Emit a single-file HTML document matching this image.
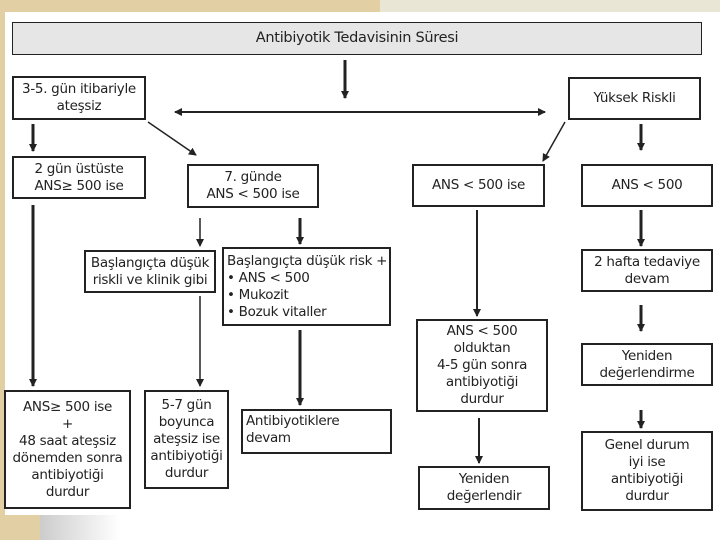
<!DOCTYPE html>
<html><head><meta charset="utf-8"><style>
body{margin:0;width:720px;height:540px;overflow:hidden;background:#e2cfa4;position:relative;font-family:"DejaVu Sans","Liberation Sans",sans-serif;}
.panel{position:absolute;left:5px;top:12px;width:715px;height:528px;background:#fff;}
.b{position:absolute;box-sizing:border-box;border:2px solid #222;background:#fff;color:#222;font-size:13.5px;line-height:17px;text-align:center;display:flex;flex-direction:column;justify-content:center;letter-spacing:-0.3px}
.l{text-align:left;align-items:flex-start;padding-left:3px}
svg{position:absolute;left:0;top:0}
</style></head><body>
<div class="panel"></div>
<div style="position:absolute;left:380px;top:0;width:340px;height:12px;background:#e9e6d6"></div>
<div style="position:absolute;left:0;top:515px;width:120px;height:25px;background:#e2cfa4"></div>
<div style="position:absolute;left:40px;top:515px;width:80px;height:25px;background:linear-gradient(90deg,#ccc,#fff)"></div>
<div class="b" style="left:12px;top:22px;width:690px;height:33px;background:#e6e6e6;border-width:1.5px;font-size:14.5px">Antibiyotik Tedavisinin Süresi</div>
<div class="b" style="left:12px;top:76px;width:134px;height:44px">3-5. gün itibariyle<br>ateşsiz</div>
<div class="b" style="left:568px;top:77px;width:133px;height:43px">Yüksek Riskli</div>
<div class="b" style="left:12px;top:156px;width:134px;height:43px">2 gün üstüste<br>ANS≥ 500 ise</div>
<div class="b" style="left:187px;top:164px;width:132px;height:44px">7. günde<br>ANS &lt; 500 ise</div>
<div class="b" style="left:412px;top:164px;width:133px;height:43px">ANS &lt; 500 ise</div>
<div class="b" style="left:581px;top:164px;width:132px;height:43px">ANS &lt; 500</div>
<div class="b" style="left:84px;top:250px;width:132px;height:43px">Başlangıçta düşük<br>riskli ve klinik gibi</div>
<div class="b l" style="left:222px;top:247px;width:169px;height:79px">Başlangıçta düşük risk +<br>• ANS &lt; 500<br>• Mukozit<br>• Bozuk vitaller</div>
<div class="b" style="left:581px;top:249px;width:132px;height:43px">2 hafta tedaviye<br>devam</div>
<div class="b" style="left:416px;top:319px;width:132px;height:93px">ANS &lt; 500<br>olduktan<br>4-5 gün sonra<br>antibiyotiği<br>durdur</div>
<div class="b" style="left:581px;top:343px;width:132px;height:43px">Yeniden<br>değerlendirme</div>
<div class="b" style="left:4px;top:390px;width:127px;height:119px">ANS≥ 500 ise<br>+<br>48 saat ateşsiz<br>dönemden sonra<br>antibiyotiği<br>durdur</div>
<div class="b" style="left:144px;top:390px;width:85px;height:99px">5-7 gün<br>boyunca<br>ateşsiz ise<br>antibiyotiği<br>durdur</div>
<div class="b l" style="left:241px;top:409px;width:151px;height:45px;justify-content:flex-start;padding-top:2px">Antibiyotiklere<br>devam</div>
<div class="b" style="left:418px;top:466px;width:132px;height:44px">Yeniden<br>değerlendir</div>
<div class="b" style="left:581px;top:431px;width:132px;height:80px">Genel durum<br>iyi ise<br>antibiyotiği<br>durdur</div>
<svg width="720" height="540">
<defs><marker id="a" markerWidth="8" markerHeight="8" refX="7" refY="4" orient="auto" markerUnits="userSpaceOnUse"><path d="M0,0 L8,4 L0,8 z" fill="#222"/></marker></defs>
<g stroke="#222" fill="none">
<line x1="345" y1="60" x2="345" y2="98" stroke-width="3" marker-end="url(#a)"/>
<line x1="345" y1="112" x2="175" y2="112" stroke-width="2" marker-end="url(#a)"/>
<line x1="345" y1="112" x2="545" y2="112" stroke-width="2" marker-end="url(#a)"/>
<line x1="33" y1="124" x2="33" y2="151" stroke-width="3" marker-end="url(#a)"/>
<line x1="148" y1="122" x2="196" y2="155" stroke-width="1.5" marker-end="url(#a)"/>
<line x1="565" y1="122" x2="543" y2="161" stroke-width="1.5" marker-end="url(#a)"/>
<line x1="641" y1="124" x2="641" y2="150" stroke-width="3" marker-end="url(#a)"/>
<line x1="33" y1="205" x2="33" y2="386" stroke-width="3" marker-end="url(#a)"/>
<line x1="200" y1="218" x2="200" y2="246" stroke-width="1.5" marker-end="url(#a)"/>
<line x1="300" y1="218" x2="300" y2="244" stroke-width="3" marker-end="url(#a)"/>
<line x1="200" y1="296" x2="200" y2="386" stroke-width="1.5" marker-end="url(#a)"/>
<line x1="300" y1="330" x2="300" y2="405" stroke-width="3" marker-end="url(#a)"/>
<line x1="477" y1="210" x2="477" y2="316" stroke-width="2" marker-end="url(#a)"/>
<line x1="479" y1="418" x2="479" y2="463" stroke-width="2" marker-end="url(#a)"/>
<line x1="641" y1="210" x2="641" y2="246" stroke-width="3" marker-end="url(#a)"/>
<line x1="641" y1="305" x2="641" y2="331" stroke-width="3" marker-end="url(#a)"/>
<line x1="641" y1="410" x2="641" y2="428" stroke-width="3" marker-end="url(#a)"/>
</g></svg>
</body></html>
